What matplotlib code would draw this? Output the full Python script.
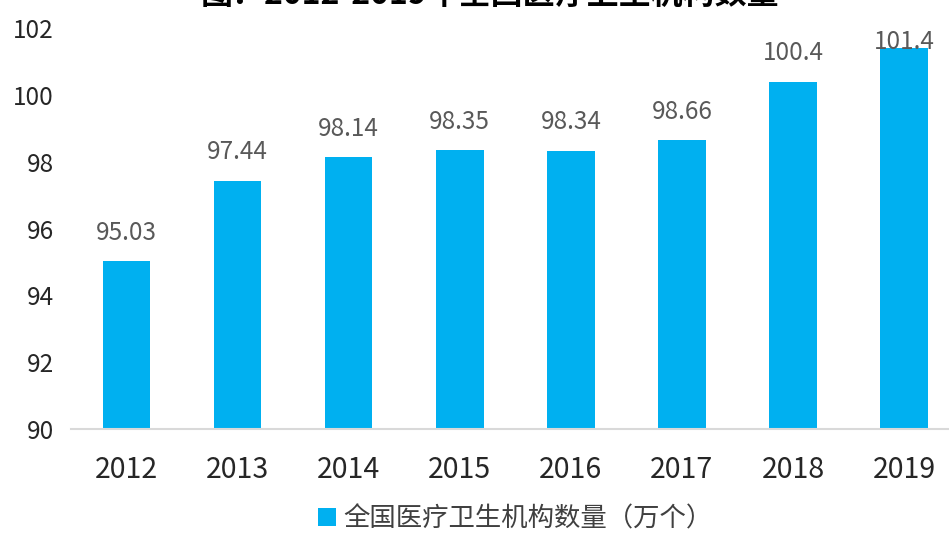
import matplotlib
matplotlib.use("Agg")
import matplotlib.pyplot as plt
from matplotlib.patches import Patch

plt.rcParams["font.family"] = ["Noto Sans CJK SC", "DejaVu Sans"]

years = ["2012", "2013", "2014", "2015", "2016", "2017", "2018", "2019"]
counts = [95.03, 97.44, 98.14, 98.35, 98.34, 98.66, 100.4, 101.4]
count_labels = ["95.03", "97.44", "98.14", "98.35", "98.34", "98.66", "100.4", "101.4"]
y_ticks = [90, 92, 94, 96, 98, 100, 102]

BAR_COLOR = "#00B0F0"

fig = plt.figure(figsize=(9.49, 5.33), dpi=100)
ax = fig.add_axes([71 / 949, 104 / 533, 888.6 / 949, 400.7 / 533])

x = list(range(len(years)))
ax.bar(x, counts, width=0.428, color=BAR_COLOR)

# value labels; the last one sits lower, clipped by the chart area in the original
for i, (val, lab) in enumerate(zip(counts, count_labels)):
    pad = 11 if i < len(counts) - 1 else -4.5
    ax.annotate(lab, xy=(i, val), xytext=(0, pad), textcoords="offset points",
                ha="center", va="bottom", fontsize=17.5, color="#595959")

ax.set_xlim(-0.5, len(years) - 0.5)
ax.set_ylim(90, 102)
ax.set_yticks(y_ticks)
ax.set_xticks(x)
ax.set_xticklabels(years)

for side in ["top", "right", "left"]:
    ax.spines[side].set_visible(False)
ax.spines["bottom"].set_color("#d9d9d9")
ax.spines["bottom"].set_linewidth(1.5)

ax.tick_params(axis="y", length=0, pad=12.5, labelsize=17.5, labelcolor="#262626")
ax.tick_params(axis="x", length=0, pad=18.5, labelsize=20.5, labelcolor="#262626")

fig.text(0.516, 0.992, "图：2012-2019年全国医疗卫生机构数量", ha="center", va="baseline",
         fontsize=23, fontweight="bold", color="black")

handle = Patch(facecolor=BAR_COLOR, edgecolor="none")
fig.legend([handle], ["全国医疗卫生机构数量（万个）"], loc="center",
           bbox_to_anchor=(0.543, 0.027), frameon=False, borderpad=0,
           fontsize=19, handlelength=0.68, handleheight=0.68,
           handletextpad=0.3, labelcolor="#404040")

fig.savefig("out.png", dpi=100)
